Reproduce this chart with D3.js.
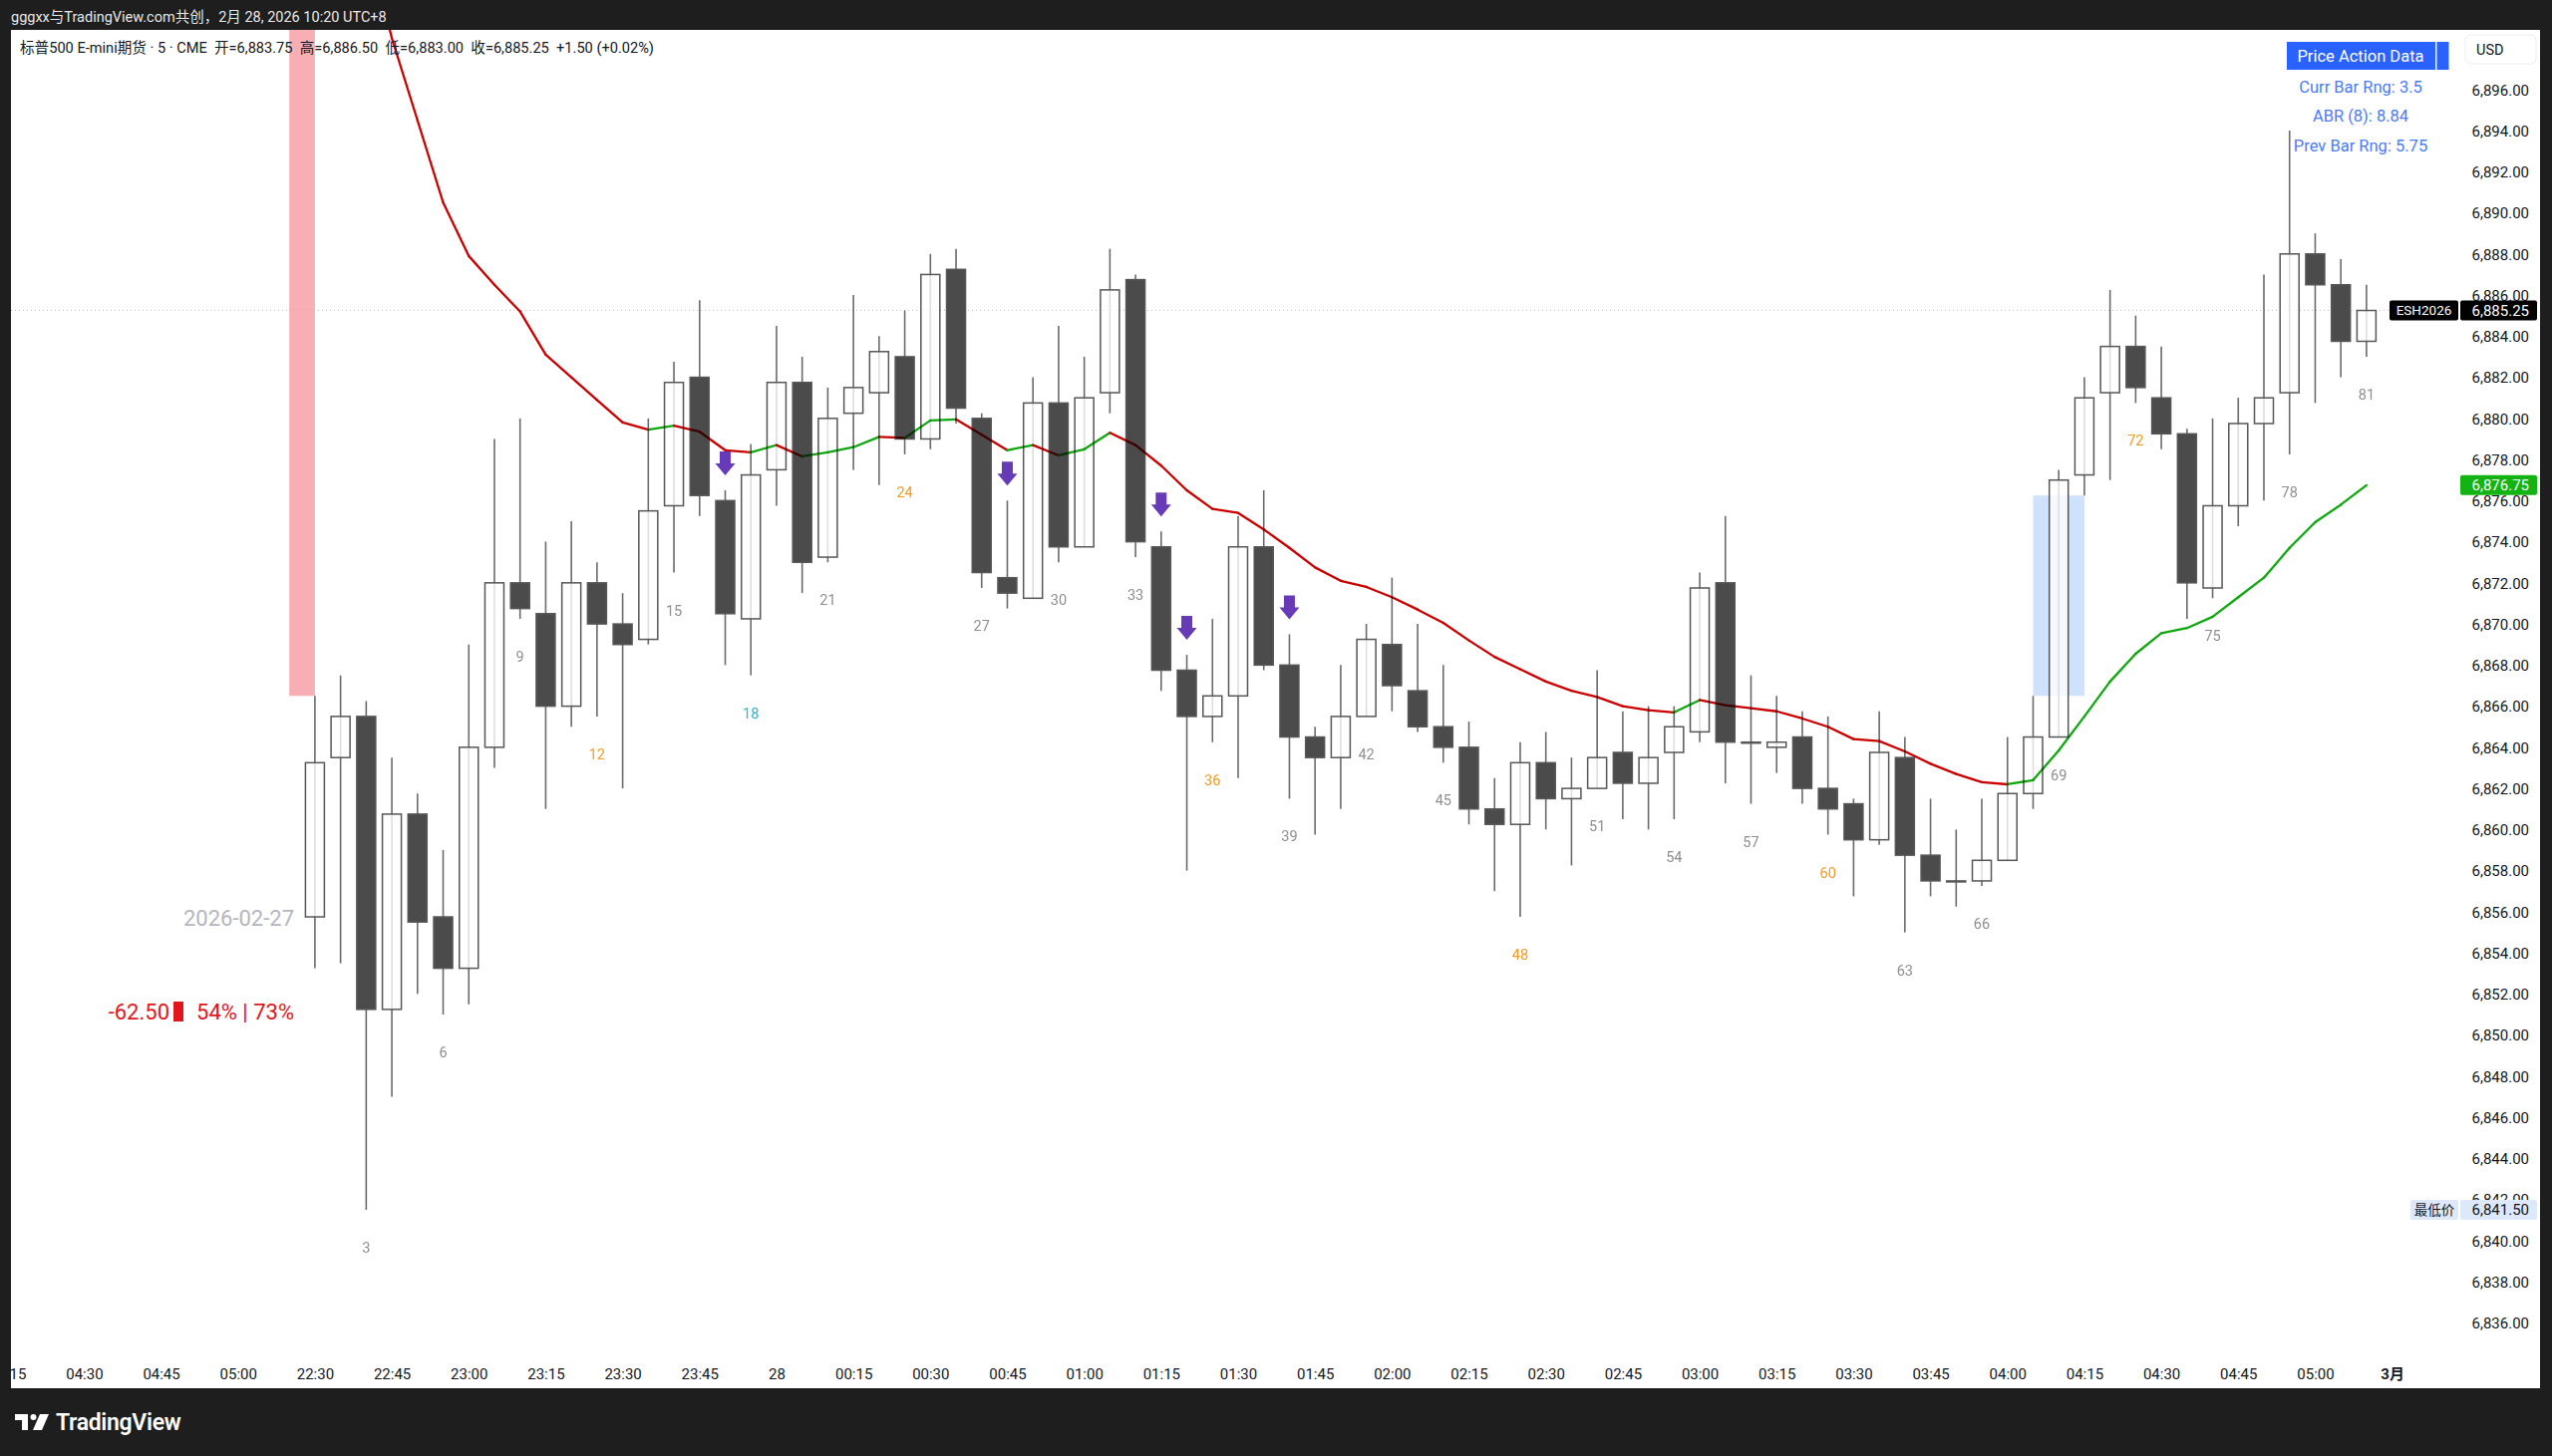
<!DOCTYPE html>
<html lang="zh">
<head>
<meta charset="UTF-8">
<title>标普500 E-mini期货 · 5 · CME</title>
<script src="https://d3js.org/d3.v7.min.js"></script>
<style>
  html, body { margin: 0; padding: 0; background: #1e1e1e; }
  svg { display: block; }
  text { font-family: Roboto, "Noto Sans CJK SC", sans-serif; }
  .cjk { font-family: Roboto, "Noto Sans CJK SC", sans-serif; white-space: pre; }
  .axis text { font-size: 15px; fill: #131722; }
  .axis path, .axis line { display: none; }
  .barnum { font-size: 14.5px; text-anchor: middle; }
  .panel-text { font-size: 16.5px; fill: #4a7cf6; text-anchor: middle; }
</style>
</head>
<body>
<div id="chart"></div>
<script>
// ---- data (ESH2026, 5 min bars, numbered 1..81) ----
const opens = [6855.75, 6863.5, 6865.5, 6851.25, 6860.75, 6855.75, 6853.25, 6864.0, 6872.0, 6870.5,
  6866.0, 6872.0, 6870.0, 6869.25, 6875.75, 6882.0, 6876.0, 6870.25, 6877.5, 6881.75,
  6873.25, 6880.25, 6881.25, 6883.0, 6879.0, 6887.25, 6880.0, 6872.25, 6871.25, 6880.75,
  6873.75, 6881.25, 6886.75, 6873.75, 6867.75, 6865.5, 6866.5, 6873.75, 6868.0, 6864.5,
  6863.5, 6865.5, 6869.0, 6866.75, 6865.0, 6864.0, 6861.0, 6860.25, 6863.25, 6861.5,
  6862.0, 6863.75, 6862.25, 6863.75, 6864.75, 6872.0, 6864.25, 6864.0, 6864.5, 6862.0,
  6861.25, 6859.5, 6863.5, 6858.75, 6857.5, 6857.5, 6858.5, 6861.75, 6864.5, 6877.25,
  6881.25, 6883.5, 6881.0, 6879.25, 6871.75, 6875.75, 6879.75, 6881.25, 6888.0, 6886.5,
  6883.75];
const highs = [6866.5, 6867.5, 6866.25, 6863.5, 6861.75, 6859.0, 6869.0, 6879.0, 6880.0, 6874.0,
  6875.0, 6873.0, 6871.5, 6880.0, 6882.75, 6885.75, 6876.5, 6878.75, 6884.5, 6883.0,
  6881.5, 6886.0, 6884.0, 6885.25, 6888.0, 6888.25, 6880.25, 6876.0, 6882.0, 6884.5,
  6883.0, 6888.25, 6887.0, 6874.5, 6868.5, 6870.25, 6875.25, 6876.5, 6869.5, 6865.0,
  6868.0, 6870.0, 6872.25, 6870.0, 6868.0, 6865.25, 6862.5, 6864.25, 6864.75, 6863.5,
  6867.75, 6865.75, 6866.0, 6866.0, 6872.5, 6875.25, 6867.5, 6866.5, 6865.75, 6865.5,
  6861.5, 6865.75, 6864.5, 6861.5, 6860.0, 6861.5, 6864.5, 6866.5, 6877.5, 6882.0,
  6886.25, 6885.0, 6883.5, 6879.5, 6880.0, 6881.0, 6887.0, 6894.0, 6889.0, 6887.75,
  6886.5];
const lows = [6853.25, 6853.5, 6841.5, 6847.0, 6852.0, 6851.0, 6851.5, 6863.0, 6870.25, 6861.0,
  6865.0, 6865.5, 6862.0, 6869.0, 6872.5, 6875.25, 6868.0, 6867.5, 6875.75, 6871.5,
  6873.0, 6877.5, 6876.75, 6878.25, 6878.5, 6879.75, 6871.75, 6870.75, 6871.25, 6873.0,
  6873.75, 6880.25, 6873.25, 6866.75, 6858.0, 6864.25, 6862.5, 6867.75, 6861.5, 6859.75,
  6861.0, 6865.5, 6865.75, 6864.75, 6863.25, 6860.25, 6857.0, 6855.75, 6860.0, 6858.25,
  6862.0, 6860.5, 6860.0, 6860.5, 6864.25, 6862.25, 6861.25, 6862.75, 6861.25, 6859.75,
  6856.75, 6859.25, 6855.0, 6856.75, 6856.25, 6857.25, 6858.5, 6861.0, 6864.5, 6876.25,
  6877.0, 6880.75, 6878.5, 6870.25, 6871.25, 6874.75, 6876.0, 6878.25, 6880.75, 6882.0,
  6883.0];
const closes = [6863.25, 6865.5, 6851.25, 6860.75, 6855.5, 6853.25, 6864.0, 6872.0, 6870.75, 6866.0,
  6872.0, 6870.0, 6869.0, 6875.5, 6881.75, 6876.25, 6870.5, 6877.25, 6881.75, 6873.0,
  6880.0, 6881.5, 6883.25, 6879.0, 6887.0, 6880.5, 6872.5, 6871.5, 6880.75, 6873.75,
  6881.0, 6886.25, 6874.0, 6867.75, 6865.5, 6866.5, 6873.75, 6868.0, 6864.5, 6863.5,
  6865.5, 6869.25, 6867.0, 6865.0, 6864.0, 6861.0, 6860.25, 6863.25, 6861.5, 6862.0,
  6863.5, 6862.25, 6863.5, 6865.0, 6871.75, 6864.25, 6864.25, 6864.25, 6862.0, 6861.0,
  6859.5, 6863.75, 6858.75, 6857.5, 6857.5, 6858.5, 6861.75, 6864.5, 6877.0, 6881.0,
  6883.5, 6881.5, 6879.25, 6872.0, 6875.75, 6879.75, 6881.0, 6888.0, 6886.5, 6883.75,
  6885.25];
const ema = [6913.0, 6909.0, 6903.5, 6898.5, 6894.5, 6890.5, 6887.9, 6886.5, 6885.2, 6883.1,
  6882.0, 6880.9, 6879.8, 6879.45, 6879.65, 6879.35, 6878.45, 6878.35, 6878.7, 6878.15,
  6878.35, 6878.6, 6879.1, 6879.05, 6879.9, 6879.95, 6879.2, 6878.45, 6878.7, 6878.2,
  6878.5, 6879.3, 6878.7, 6877.7, 6876.5, 6875.6, 6875.4, 6874.6, 6873.7, 6872.75,
  6872.1, 6871.8, 6871.3, 6870.7, 6870.05, 6869.2, 6868.4, 6867.8, 6867.2, 6866.75,
  6866.45, 6866.0, 6865.8, 6865.7, 6866.3, 6866.05, 6865.9, 6865.75, 6865.4, 6865.0,
  6864.4, 6864.3, 6863.8, 6863.2, 6862.7, 6862.3, 6862.2, 6862.4, 6863.85, 6865.5,
  6867.2, 6868.55, 6869.55, 6869.8, 6870.35, 6871.3, 6872.25, 6873.7, 6874.95, 6875.8,
  6876.75];
const signalBars = [17, 28, 34, 35, 39];
const timeLabels = ['04:15', '04:30', '04:45', '05:00', '22:30', '22:45', '23:00', '23:15', '23:30', '23:45',
  '28', '00:15', '00:30', '00:45', '01:00', '01:15', '01:30', '01:45', '02:00', '02:15',
  '02:30', '02:45', '03:00', '03:15', '03:30', '03:45', '04:00', '04:15', '04:30', '04:45',
  '05:00', '3月'];
const priceTicks = d3.range(6836, 6897, 2);
const panelLines = ['Curr Bar Rng: 3.5', 'ABR (8): 8.84', 'Prev Bar Rng: 5.75'];

// ---- layout ----
const W = 2560, H = 1461;
const plot = { left: 11, right: 2466, top: 30, bottom: 1362 };

const svg = d3.select('#chart').append('svg')
  .attr('width', W).attr('height', H);

svg.append('rect').attr('width', W).attr('height', H).attr('fill', '#1e1e1e');
// white panel
svg.append('rect').attr('x', 11).attr('y', 30).attr('width', 2537).attr('height', 1363).attr('fill', '#ffffff');

const defs = svg.append('defs');
defs.append('clipPath').attr('id', 'plotClip').append('rect')
  .attr('x', plot.left).attr('y', plot.top)
  .attr('width', plot.right - plot.left).attr('height', plot.bottom - plot.top);
defs.append('clipPath').attr('id', 'panelClip').append('rect')
  .attr('x', 11).attr('y', 30).attr('width', 2537).attr('height', 1363);

const x = d3.scaleLinear().domain([1, 81]).range([315.9, 2373.9]);
const y = d3.scaleLinear().domain([6836, 6896]).range([1327.4, 89.8]);

const candles = opens.map((o, i) => ({ n: i + 1, o, h: highs[i], l: lows[i], c: closes[i] }));

const g = svg.append('g').attr('clip-path', 'url(#plotClip)');

// session gap box (prev close -> first bar high)
g.append('rect')
  .attr('x', x(0)).attr('width', x(1) - x(0))
  .attr('y', plot.top).attr('height', y(candles[0].h) - plot.top)
  .attr('fill', '#f8afb4');

// fair value gap between bar 68 high and bar 70 low
g.append('rect')
  .attr('x', x(68)).attr('width', x(70) - x(68))
  .attr('y', y(candles[69].l)).attr('height', y(candles[67].h) - y(candles[69].l))
  .attr('fill', '#cfe1fb');

// last price dotted line
g.append('line')
  .attr('x1', plot.left).attr('x2', plot.right)
  .attr('y1', y(closes[80])).attr('y2', y(closes[80]))
  .attr('stroke', '#b8bcc6').attr('stroke-width', 1).attr('stroke-dasharray', '1,3');

// candles
const bodyW = 19;
const cg = g.append('g');
cg.selectAll('.wick').data(candles).enter().append('line')
  .attr('class', 'wick')
  .attr('x1', d => x(d.n)).attr('x2', d => x(d.n))
  .attr('y1', d => y(d.h)).attr('y2', d => y(d.l))
  .attr('stroke', '#6a6a6a').attr('stroke-width', 1.6);
cg.selectAll('.body').data(candles).enter().append('rect')
  .attr('class', 'body')
  .attr('x', d => x(d.n) - bodyW / 2)
  .attr('width', bodyW)
  .attr('y', d => y(Math.max(d.o, d.c)))
  .attr('height', d => Math.max(1, Math.abs(y(d.o) - y(d.c))))
  .attr('fill', d => d.c >= d.o ? 'rgba(255,255,255,0.78)' : '#4b4b4b')
  .attr('stroke', '#575757').attr('stroke-width', 1.5);

// EMA, coloured by direction
const emaG = g.append('g').style('mix-blend-mode', 'multiply');
for (let i = 1; i < ema.length; i++) {
  const up = ema[i] >= ema[i - 1];
  emaG.append('line')
    .attr('x1', x(i)).attr('y1', y(ema[i - 1]))
    .attr('x2', x(i + 1)).attr('y2', y(ema[i]))
    .attr('stroke', up ? '#10a810' : '#cc0000')
    .attr('stroke-width', 2.3).attr('stroke-linecap', 'round');
}

// sell arrows above signal bars
signalBars.forEach(n => {
  const cx = x(n), tip = y(highs[n - 1]) - 15;
  g.append('path')
    .attr('d', `M${cx - 5.5},${tip - 24} h11 v12 h4.5 L${cx},${tip} L${cx - 10},${tip - 12} h4.5 Z`)
    .attr('fill', '#673ab7');
});

// bar count labels every 3 bars
const numColor = n => n === 18 ? '#2ab4cf' : (n % 12 === 0 ? '#f59a23' : '#8f8f8f');
g.selectAll('.barnum').data(candles.filter(d => d.n % 3 === 0)).enter().append('text')
  .attr('class', 'barnum')
  .attr('x', d => x(d.n)).attr('y', d => y(d.l) + 38)
  .attr('dy', '0.35em')
  .attr('fill', d => numColor(d.n))
  .text(d => d.n);

// previous session labels
svg.append('text').attr('x', 295).attr('y', 921).attr('dy', '0.35em')
  .attr('text-anchor', 'end').attr('font-size', 22).attr('fill', '#b4b6c0')
  .text('2026-02-27');
svg.append('text').attr('x', 295).attr('y', 1015).attr('dy', '0.35em')
  .attr('text-anchor', 'end').attr('font-size', 22).attr('fill', '#e3151c')
  .text('54% | 73%');
svg.append('rect').attr('x', 174).attr('y', 1005).attr('width', 10).attr('height', 20).attr('fill', '#e3151c');
svg.append('text').attr('x', 170).attr('y', 1015).attr('dy', '0.35em')
  .attr('text-anchor', 'end').attr('font-size', 22).attr('fill', '#e3151c')
  .text('-62.50');

// time axis
const tickBars = timeLabels.map((_, i) => -11 + i * 3);
const xAxis = svg.append('g').attr('clip-path', 'url(#panelClip)')
  .append('g').attr('class', 'axis')
  .attr('transform', 'translate(0,1379)')
  .call(d3.axisBottom(x).tickValues(tickBars).tickSize(0)
    .tickFormat((d, i) => timeLabels[i]));
xAxis.selectAll('text').attr('y', 0).attr('dy', '0.35em')
  .attr('font-weight', d => d === 82 ? 'bold' : null);

// price axis
const yAxis = svg.append('g').attr('class', 'axis')
  .attr('transform', 'translate(2537,0)')
  .call(d3.axisRight(y).tickValues(priceTicks).tickSize(0).tickFormat(d3.format(',.2f')));
yAxis.selectAll('text').attr('x', 0).attr('text-anchor', 'end').attr('dy', '0.35em');

// price labels on the axis
function priceTag(val, bg, fg, label, labelBg, labelFg) {
  const cy = y(val);
  svg.append('rect').attr('x', 2468).attr('y', cy - 10).attr('width', 77).attr('height', 20)
    .attr('rx', 2).attr('fill', bg);
  svg.append('text').attr('x', 2537).attr('y', cy).attr('dy', '0.35em')
    .attr('text-anchor', 'end').attr('font-size', 15).attr('fill', fg)
    .text(d3.format(',.2f')(val));
  if (label) {
    const w = label.length > 4 ? 69 : 48;
    svg.append('rect').attr('x', 2466 - w).attr('y', cy - 10).attr('width', w).attr('height', 20)
      .attr('rx', 2).attr('fill', labelBg);
    svg.append('text').attr('class', 'cjk').attr('x', 2466 - w / 2).attr('y', cy).attr('dy', '0.35em')
      .attr('text-anchor', 'middle').attr('font-size', 13.5).attr('fill', labelFg)
      .text(label);
  }
}
priceTag(closes[80], '#000000', '#ffffff', 'ESH2026', '#000000', '#ffffff');
priceTag(ema[80], '#13b313', '#ffffff');
priceTag(d3.min(lows), '#dde9fb', '#131722', '最低价', '#dde9fb', '#131722');

// currency box
svg.append('rect').attr('x', 2473).attr('y', 35).attr('width', 71).attr('height', 29)
  .attr('rx', 5).attr('fill', '#ffffff').attr('stroke', '#eceef2');
svg.append('text').attr('x', 2484).attr('y', 49.5).attr('dy', '0.35em')
  .attr('font-size', 14.5).attr('fill', '#131722').text('USD');

// price action data panel
svg.append('rect').attr('x', 2294).attr('y', 42).attr('width', 149).attr('height', 28).attr('fill', '#2962ff');
svg.append('rect').attr('x', 2444.5).attr('y', 42).attr('width', 12).attr('height', 28).attr('fill', '#2962ff');
svg.append('text').attr('x', 2368).attr('y', 56).attr('dy', '0.35em')
  .attr('text-anchor', 'middle').attr('font-size', 16.5).attr('fill', '#ffffff')
  .text('Price Action Data');
svg.selectAll('.panel-text').data(panelLines).enter().append('text')
  .attr('class', 'panel-text')
  .attr('x', 2368).attr('y', (d, i) => 87 + i * 29.5).attr('dy', '0.35em')
  .text(d => d);

// legend line
svg.append('text').attr('class', 'cjk').attr('x', 20).attr('y', 48).attr('dy', '0.35em')
  .attr('font-size', 14.6).attr('fill', '#131722')
  .text('标普500 E-mini期货 · 5 · CME  开=6,883.75  高=6,886.50  低=6,883.00  收=6,885.25  +1.50 (+0.02%)');

// top bar title
svg.append('text').attr('class', 'cjk').attr('x', 11).attr('y', 17).attr('dy', '0.35em')
  .attr('font-size', 14.5).attr('fill', '#e8e8e8')
  .text('gggxx与TradingView.com共创，2月 28, 2026 10:20 UTC+8');

// TradingView logo at the bottom
const logo = svg.append('g').attr('transform', 'translate(15,1419)').attr('fill', '#ffffff');
logo.append('path').attr('d', 'M0,0 H13 V16 H7 V6 H0 Z');
logo.append('circle').attr('cx', 18.5).attr('cy', 3).attr('r', 3);
logo.append('path').attr('d', 'M25,0 H34 L27,16 H18 Z');
svg.append('text').attr('x', 56).attr('y', 1427).attr('dy', '0.35em')
  .attr('font-size', 23).attr('font-weight', 600).attr('fill', '#ffffff')
  .attr('letter-spacing', -0.3)
  .text('TradingView');
</script>
</body>
</html>
